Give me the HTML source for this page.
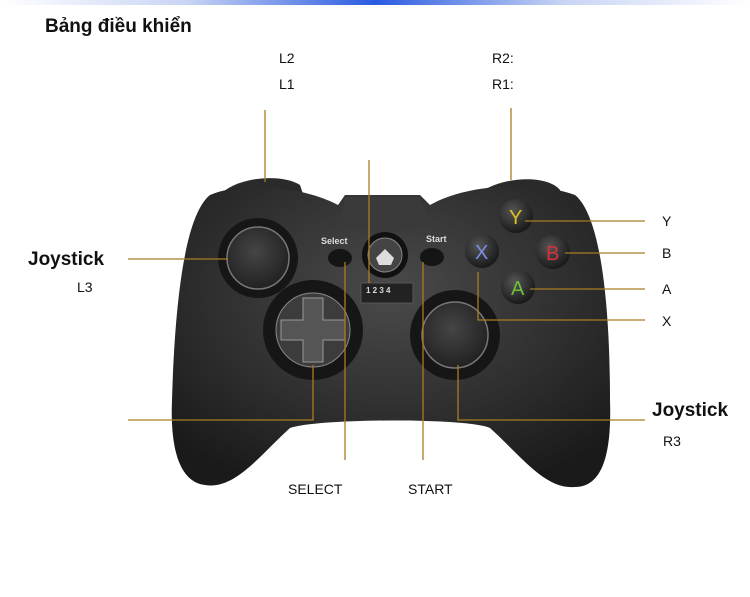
<!DOCTYPE html>
<html><head><meta charset="utf-8"><style>
html,body{margin:0;padding:0;background:#fff;width:750px;height:597px;overflow:hidden}
svg{display:block}
text{font-family:"Liberation Sans","Noto Sans CJK SC",sans-serif}
</style></head><body>
<svg width="750" height="597" viewBox="0 0 750 597" xmlns="http://www.w3.org/2000/svg">
<defs>
<linearGradient id="top" x1="0" x2="1"><stop offset="0" stop-color="#fff"/><stop offset="0.25" stop-color="#c8d4f4"/><stop offset="0.5" stop-color="#2a5ae0"/><stop offset="0.75" stop-color="#c8d4f4"/><stop offset="1" stop-color="#fff"/></linearGradient>
<radialGradient id="bodyg" cx="0.5" cy="0.35" r="0.7"><stop offset="0" stop-color="#4a4a4a"/><stop offset="0.6" stop-color="#2e2e2e"/><stop offset="1" stop-color="#1a1a1a"/></radialGradient>
<radialGradient id="stick" cx="0.45" cy="0.4" r="0.6"><stop offset="0" stop-color="#454545"/><stop offset="1" stop-color="#222"/></radialGradient>
<radialGradient id="btn" cx="0.4" cy="0.35" r="0.7"><stop offset="0" stop-color="#555"/><stop offset="1" stop-color="#151515"/></radialGradient>
</defs>
<rect x="0" y="0" width="750" height="5" fill="url(#top)"/>
<text x="45" y="32" font-size="19" font-weight="bold" fill="#111">Bảng điều khiển</text>
<g font-size="14" fill="#111">
<text x="279" y="63">L2</text><text x="279" y="89">L1</text>
<text x="492" y="63">R2:</text><text x="492" y="89">R1:</text>
<text x="77" y="292">L3</text>
<text x="662" y="226">Y</text><text x="662" y="258">B</text><text x="662" y="294">A</text><text x="662" y="326">X</text>
<text x="663" y="446">R3</text>
<text x="288" y="494">SELECT</text><text x="408" y="494">START</text>
</g>
<text x="28" y="265" font-size="19" font-weight="bold" fill="#111">Joystick</text>
<text x="652" y="416" font-size="19" font-weight="bold" fill="#111">Joystick</text>
<path d="M218 198 C230 178 280 172 300 185 L305 200 Z" fill="#2a2a2a"/>
<path d="M475 198 C490 178 545 172 560 190 L565 205 Z" fill="#2a2a2a"/>
<path d="M210 195 C240 182 300 185 338 205 L345 195 L420 195 L430 205 C470 182 540 182 575 195 C600 215 610 300 610 400 C612 460 600 487 575 487 C545 490 520 455 490 428 C470 418 320 418 290 428 C260 455 235 490 205 485 C180 482 170 450 172 400 C175 300 185 215 210 195 Z" fill="url(#bodyg)"/>
<path d="M345 197 L420 197 L430 222 C415 235 355 235 342 222 Z" fill="#3a3a3a"/>
<circle cx="258" cy="258" r="40" fill="#161616"/>
<circle cx="258" cy="258" r="31" fill="url(#stick)" stroke="#777" stroke-width="1.5"/>
<circle cx="313" cy="330" r="50" fill="#161616"/>
<circle cx="313" cy="330" r="37" fill="#3c3c3c" stroke="#888" stroke-width="1"/>
<path d="M303 298 h20 v22 h22 v20 h-22 v22 h-20 v-22 h-22 v-20 h22 Z" fill="#555" stroke="#999" stroke-width="1"/>
<circle cx="455" cy="335" r="45" fill="#161616"/>
<circle cx="455" cy="335" r="33" fill="url(#stick)" stroke="#777" stroke-width="1.5"/>
<circle cx="385" cy="255" r="23" fill="#111"/>
<circle cx="385" cy="255" r="17" fill="#444" stroke="#888"/>
<path d="M376 258 L385 249 L394 258 L391 265 L379 265 Z" fill="#ddd"/>
<text x="321" y="244" font-size="9" font-weight="bold" fill="#ddd">Select</text>
<text x="426" y="242" font-size="9" font-weight="bold" fill="#ddd">Start</text>
<ellipse cx="340" cy="258" rx="12" ry="9" fill="#151515"/>
<ellipse cx="432" cy="257" rx="12" ry="9" fill="#151515"/>
<rect x="361" y="283" width="52" height="20" fill="#222" stroke="#555"/>
<text x="366" y="293" font-size="8" font-weight="bold" fill="#ddd">1  2  3  4</text>
<circle cx="516" cy="216" r="17" fill="url(#btn)"/><text x="509" y="224" font-size="20" fill="#d9c21b">Y</text>
<circle cx="482" cy="251" r="17" fill="url(#btn)"/><text x="475" y="259" font-size="20" fill="#7a8fe0">X</text>
<circle cx="553" cy="252" r="17" fill="url(#btn)"/><text x="546" y="260" font-size="20" fill="#d8323a">B</text>
<circle cx="518" cy="287" r="17" fill="url(#btn)"/><text x="511" y="295" font-size="20" fill="#6ec23a">A</text>
<g stroke="#a97c24" stroke-width="1.3" fill="none">
<path d="M265 110 V182"/><path d="M511 108 V180"/><path d="M369 160 V283"/>
<path d="M128 259 H228"/><path d="M128 420 H313 V365"/>
<path d="M345 262 V460"/><path d="M423 262 V460"/>
<path d="M525 221 H645"/><path d="M565 253 H645"/><path d="M530 289 H645"/>
<path d="M478 272 V320 H645"/><path d="M458 365 V420 H645"/>
</g>
</svg>
</body></html>
